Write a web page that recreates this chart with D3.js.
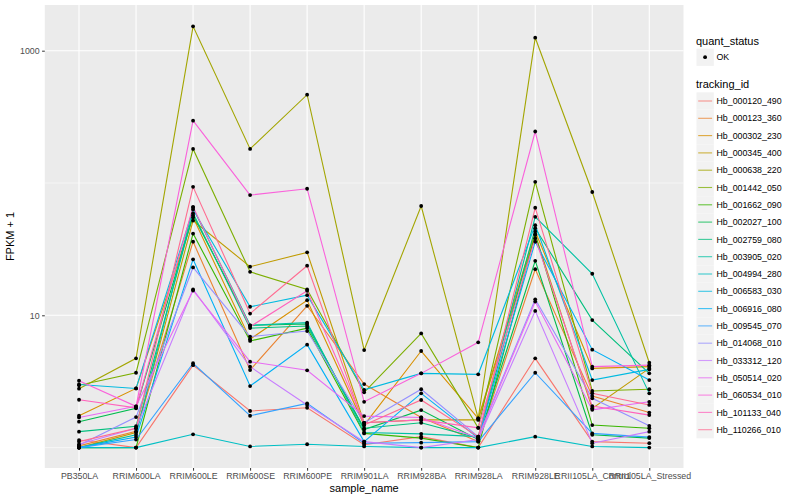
<!DOCTYPE html>
<html><head><meta charset="utf-8">
<script src="https://cdn.jsdelivr.net/npm/d3@7"></script>
<style>body{margin:0;background:#fff}svg{font-family:"Liberation Sans",Arial,sans-serif}</style>
</head><body><svg id="c" width="800" height="500"></svg>
<script>
const samples = ["PB350LA","RRIM600LA","RRIM600LE","RRIM600SE","RRIM600PE","RRIM901LA","RRIM928BA","RRIM928LA","RRIM928LE","RRII105LA_Control","RRII105LA_Stressed"];
const trackingIds = ["Hb_000120_490","Hb_000123_360","Hb_000302_230","Hb_000345_400","Hb_000638_220","Hb_001442_050","Hb_001662_090","Hb_002027_100","Hb_002759_080","Hb_003905_020","Hb_004994_280","Hb_006583_030","Hb_006916_080","Hb_009545_070","Hb_014068_010","Hb_033312_120","Hb_050514_020","Hb_060534_010","Hb_101133_040","Hb_110266_010"];
const colors = ["#F8766D","#EA8331","#D89000","#C09B00","#A3A500","#7CAE00","#39B600","#00BB4E","#00BF7D","#00C1A3","#00BFC4","#00BAE0","#00B0F6","#35A2FF","#9590FF","#C77CFF","#E76BF3","#FA62DB","#FF62BC","#FF6C91"];
// FPKM + 1 per sample
const Hb_000120_490 = [1.14,1.0,4.2,1.89,2.0,1.05,1.21,1.0,4.73,1.11,1.08];
const Hb_000123_360 = [1.03,1.33,36,3.86,11.8,3.02,1.69,1.11,22.3,2.45,1.84];
const Hb_000302_230 = [1.74,2.8,55,6.6,13.0,1.48,5.37,1.66,43,3.97,4.09];
const Hb_000345_400 = [1.0,1.3,52,23.3,29.9,1.54,1.62,1.62,40.5,1.98,3.97];
const Hb_000638_220 = [2.79,4.73,1528,181,465,5.46,67,1.66,1254,85.5,4.38];
const Hb_001442_050 = [2.96,3.68,181,21.3,15.7,2.62,7.3,1.41,102,2.68,2.76];
const Hb_001662_090 = [1.0,1.0,41.5,6.4,8.0,1.28,1.18,1.0,41,1.48,1.4];
const Hb_002027_100 = [1.57,1.98,57,8.4,8.6,1.37,1.92,1.15,25.8,1.25,1.18];
const Hb_002759_080 = [1.32,1.45,59,8.0,8.3,1.4,1.54,1.18,45.5,9.2,3.64];
const Hb_003905_020 = [1.0,1.25,65,8.4,8.8,1.3,1.27,1.21,55.5,20.6,2.57];
const Hb_004994_280 = [1.0,1.0,1.26,1.02,1.06,1.02,1.0,1.0,1.21,1.02,1.0];
const Hb_006583_030 = [3.0,2.8,63,11.6,14.2,2.73,3.64,3.58,48,3.24,3.9];
const Hb_006916_080 = [1.0,1.2,26.5,2.92,6.0,1.11,2.57,1.18,36,5.5,3.24];
const Hb_009545_070 = [1.0,1.15,4.34,1.74,2.16,1.08,1.09,1.11,3.68,1.28,1.2];
const Hb_014068_010 = [1.04,1.7,23,6.9,7.6,1.54,2.76,1.21,13.2,2.36,1.46];
const Hb_033312_120 = [1.06,1.4,15.7,4.09,2.1,1.11,1.0,1.15,10.8,1.08,1.32];
const Hb_050514_020 = [1.69,2.05,15.4,4.46,3.84,1.73,1.69,1.18,12.7,1.93,2.22];
const Hb_060534_010 = [3.2,2.05,296,81,90.5,2.22,3.64,6.25,245,4.09,4.2];
const Hb_101133_040 = [2.3,2.0,66,8.2,15.3,1.54,1.62,1.41,38.2,2.06,1.76];
const Hb_110266_010 = [1.11,1.4,93.5,10.3,23.7,1.48,2.29,1.21,65,2.57,2.1];
const seriesValues = [Hb_000120_490,Hb_000123_360,Hb_000302_230,Hb_000345_400,Hb_000638_220,Hb_001442_050,Hb_001662_090,Hb_002027_100,Hb_002759_080,Hb_003905_020,Hb_004994_280,Hb_006583_030,Hb_006916_080,Hb_009545_070,Hb_014068_010,Hb_033312_120,Hb_050514_020,Hb_060534_010,Hb_101133_040,Hb_110266_010];
const yMajor = [10,1000], yMinor = [1,100];

const svg = d3.select("#c");
const P = {l:44.8, r:683.5, t:5, b:468};
const x = d3.scalePoint().domain(samples).range([P.l,P.r]).padding(0.6);
const y = d3.scaleLog().domain([Math.pow(10,-0.1542),Math.pow(10,3.3454)]).range([P.b,P.t]);

svg.append("rect").attr("x",P.l).attr("y",P.t).attr("width",P.r-P.l).attr("height",P.b-P.t).attr("fill","#EBEBEB");
const g = svg.append("g");
yMinor.forEach(v=>g.append("line").attr("x1",P.l).attr("x2",P.r).attr("y1",y(v)).attr("y2",y(v)).attr("stroke","#fff").attr("stroke-width",0.55));
yMajor.forEach(v=>g.append("line").attr("x1",P.l).attr("x2",P.r).attr("y1",y(v)).attr("y2",y(v)).attr("stroke","#fff").attr("stroke-width",1.1));
samples.forEach(s=>g.append("line").attr("x1",x(s)).attr("x2",x(s)).attr("y1",P.t).attr("y2",P.b).attr("stroke","#fff").attr("stroke-width",1.1));

const line = d3.line().x((d,i)=>x(samples[i])).y(d=>y(d));
seriesValues.forEach((vals,k)=>{
  g.append("path").attr("d",line(vals)).attr("fill","none").attr("stroke",colors[k]).attr("stroke-width",1.1);
});
seriesValues.forEach(vals=>{
  vals.forEach((v,i)=>g.append("circle").attr("cx",x(samples[i])).attr("cy",y(v)).attr("r",1.9).attr("fill","#000"));
});

// axes
const xa = svg.append("g").attr("transform",`translate(0,${P.b})`)
  .call(d3.axisBottom(x).tickSize(2.7).tickPadding(2.5));
const ya = svg.append("g").attr("transform",`translate(${P.l},0)`)
  .call(d3.axisLeft(y).tickValues(yMajor).tickFormat(d3.format("d")).tickSize(2.7).tickPadding(2.5));
[xa,ya].forEach(a=>{a.select(".domain").remove();a.selectAll(".tick line").attr("stroke","#333").attr("stroke-width",1.0);
  a.selectAll("text").attr("fill","#4D4D4D").style("font-size","8.8px").style("font-family","Liberation Sans, Arial, sans-serif");});

svg.append("text").attr("x",(P.l+P.r)/2).attr("y",492).attr("text-anchor","middle").style("font-size","11px").text("sample_name");
svg.append("text").attr("transform",`translate(14,${(P.t+P.b)/2}) rotate(-90)`).attr("text-anchor","middle").style("font-size","11px").text("FPKM + 1");

// legend
const L = svg.append("g");
L.append("text").attr("x",696).attr("y",44.5).style("font-size","11px").text("quant_status");
L.append("rect").attr("x",696.5).attr("y",48.6).attr("width",17.3).attr("height",17.3).attr("fill","#F2F2F2");
L.append("circle").attr("cx",705.1).attr("cy",57.2).attr("r",1.9).attr("fill","#000");
L.append("text").attr("x",716.5).attr("y",60.3).style("font-size","8.8px").text("OK");
L.append("text").attr("x",696).attr("y",88).style("font-size","11px").text("tracking_id");
trackingIds.forEach((id,k)=>{
  const cy = 101 + k*17.3;
  L.append("rect").attr("x",696.5).attr("y",cy-8.65).attr("width",17.3).attr("height",17.3).attr("fill","#F2F2F2");
  L.append("line").attr("x1",698.2).attr("x2",712.1).attr("y1",cy).attr("y2",cy).attr("stroke",colors[k]).attr("stroke-width",1.1).attr("stroke-opacity",0.75);
  L.append("text").attr("x",716.5).attr("y",cy+3.1).style("font-size","8.8px").text(id);
});
</script></body></html>
